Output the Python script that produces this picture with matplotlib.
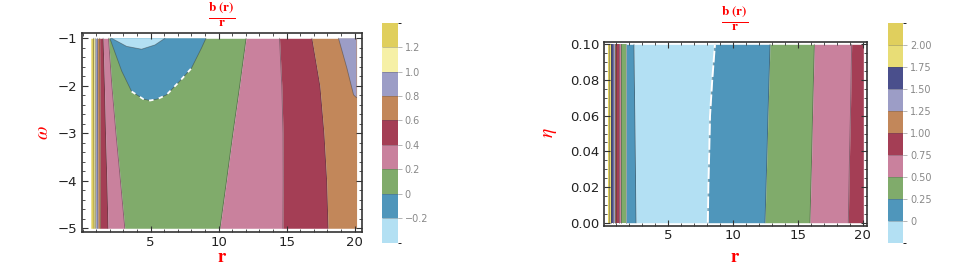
import matplotlib
matplotlib.use("Agg")
import matplotlib.pyplot as plt
from matplotlib.colors import ListedColormap, BoundaryNorm
from matplotlib.cm import ScalarMappable
from matplotlib.ticker import MultipleLocator, FixedLocator, FuncFormatter

plt.rcParams['mathtext.fontset'] = 'stix'
plt.rcParams['font.family'] = ['DejaVu Sans']

# mathematica-like contour palette
LBLUE = '#b3e0f3'
BLUE = '#4f96bb'
GREEN = '#80ab6b'
PINK = '#c9819d'
CRIMSON = '#a43e55'
TAN = '#c2875a'
LAVENDER = '#9c9dc6'
NAVY = '#4a4f8c'
LYELLOW = '#f6f0a6'
YELLOW = '#e8dd76'
MUSTARD = '#e0cf5d'

# ---------------- left panel: b(r)/r over (r, omega) ----------------
omega = [-1, -2, -3, -4, -5]
# contour boundaries (r), left to right
left_edges = [
    [0.60, 0.60, 0.60, 0.60, 0.60],
    [0.80, 0.81, 0.82, 0.83, 0.84],
    [0.92, 0.93, 0.93, 0.94, 0.95],
    [1.08, 1.09, 1.10, 1.11, 1.12],
    [1.25, 1.27, 1.28, 1.29, 1.30],
    [1.50, 1.60, 1.68, 1.78, 1.86],
    [1.90, 2.15, 2.45, 2.78, 3.10],
    [12.02, 11.55, 11.05, 10.58, 10.10],
    [14.48, 14.65, 14.74, 14.75, 14.73],
    [16.86, 17.45, 17.75, 17.95, 18.05],
    [20.15, 20.15, 20.15, 20.15, 20.15],
]
left_colors = [MUSTARD, LYELLOW, LAVENDER, TAN, CRIMSON, PINK, GREEN,
               PINK, CRIMSON, TAN]

# top-right corner (0.8 - 1.0)
corner_r = [18.82, 19.44, 19.93, 20.15, 20.15]
corner_w = [-1.0, -1.63, -2.19, -2.25, -1.0]

# negative bubble near the top (-0.2 - 0)
bubble_r = [2.0, 2.25, 2.87, 3.6, 4.46, 4.95, 5.5, 6.17, 7.15, 8.0, 8.75, 9.07]
bubble_w = [-1.0, -1.2, -1.69, -2.12, -2.28, -2.31, -2.28, -2.19, -1.9, -1.63, -1.2, -1.0]
# inner part (< -0.2)
inner_r = [2.13, 3.23, 4.33, 5.32, 6.05]
inner_w = [-1.0, -1.17, -1.23, -1.14, -1.0]

left_levels = [-0.4, -0.2, 0, 0.2, 0.4, 0.6, 0.8, 1.0, 1.2, 1.4]
left_cb_colors = [LBLUE, BLUE, GREEN, PINK, CRIMSON, TAN, LAVENDER, LYELLOW, MUSTARD]
left_cb_ticks = [-0.2, 0, 0.2, 0.4, 0.6, 0.8, 1.0, 1.2]
left_cb_labels = ['\u22120.2', '0', '0.2', '0.4', '0.6', '0.8', '1.0', '1.2']

# ---------------- right panel: b(r)/r over (r, eta) ----------------
eta = [0.0, 0.02, 0.04, 0.06, 0.08, 0.10]
right_edges = [
    [0.35] * 6,
    [0.45] * 6,
    [0.60] * 6,
    [0.73] * 6,
    [0.86] * 6,
    [0.99] * 6,
    [1.17] * 6,
    [1.37] * 6,
    [1.76] * 6,
    [2.51, 2.48, 2.45, 2.42, 2.38, 2.35],
    [8.05, 8.09, 8.16, 8.22, 8.39, 8.60],
    [12.46, 12.54, 12.62, 12.69, 12.77, 12.85],
    [15.93, 16.00, 16.07, 16.13, 16.20, 16.27],
    [18.89, 18.94, 18.99, 19.05, 19.10, 19.15],
    [20.05] * 6,
]
right_colors = [MUSTARD, YELLOW, NAVY, LAVENDER, TAN, CRIMSON, PINK, GREEN,
                BLUE, LBLUE, BLUE, GREEN, PINK, CRIMSON]

right_levels = [-0.25, 0, 0.25, 0.5, 0.75, 1.0, 1.25, 1.5, 1.75, 2.0, 2.25]
right_cb_colors = [LBLUE, BLUE, GREEN, PINK, CRIMSON, TAN, LAVENDER, NAVY, YELLOW, MUSTARD]
right_cb_ticks = [0, 0.25, 0.5, 0.75, 1.0, 1.25, 1.5, 1.75, 2.0]
right_cb_labels = ['0', '0.25', '0.50', '0.75', '1.00', '1.25', '1.50', '1.75', '2.00']

r_ticks = [5, 10, 15, 20]

EDGE = (0.2, 0.2, 0.2, 0.45)
W, H = 954, 273


def px(x0, y0, x1, y1):
    # pixel box -> figure fraction
    return [x0 / W, 1 - y1 / H, (x1 - x0) / W, (y1 - y0) / H]


def bands(ax, ys, edges, colors):
    for i, c in enumerate(colors):
        ax.fill_betweenx(ys, edges[i], edges[i + 1], color=c, lw=0)
    for e in edges[1:-1]:
        ax.plot(e, ys, color=EDGE, lw=0.6)


def frame(ax):
    ax.xaxis.set_major_locator(FixedLocator(r_ticks))
    ax.xaxis.set_minor_locator(MultipleLocator(1))
    ax.tick_params(which='both', direction='in', top=True, right=True,
                   labelsize=9.5, labelcolor='#222222', color='#333333')
    ax.tick_params(which='major', length=4, width=0.8)
    ax.tick_params(which='minor', length=2, width=0.6)
    ax.tick_params(axis='x', pad=2.5)
    for s in ax.spines.values():
        s.set_linewidth(1.2)
        s.set_color('#333333')


def cbar(fig, box, levels, colors, ticks, labels):
    cax = fig.add_axes(px(*box))
    cmap = ListedColormap(colors)
    norm = BoundaryNorm(levels, cmap.N)
    cb = fig.colorbar(ScalarMappable(norm=norm, cmap=cmap), cax=cax,
                      ticks=ticks, drawedges=True)
    cb.outline.set_visible(False)
    cb.dividers.set_color((0.3, 0.3, 0.3, 0.35))
    cb.dividers.set_linewidth(0.6)
    cb.set_ticklabels(labels)
    cax.tick_params(length=3, width=0.5, color='#999999', labelsize=7,
                    labelcolor='#888888', pad=2)


fig = plt.figure(figsize=(9.54, 2.73), dpi=100)

# left
ax1 = fig.add_axes(px(82, 33.3, 362, 232.3))
bands(ax1, omega, left_edges, left_colors)
ax1.fill(corner_r, corner_w, color=LAVENDER, lw=0)
ax1.plot(corner_r[:4], corner_w[:4], color=EDGE, lw=0.6)
ax1.fill(bubble_r, bubble_w, color=BLUE, lw=0)
ax1.plot(bubble_r, bubble_w, color=EDGE, lw=0.6)
ax1.plot(bubble_r[3:10], bubble_w[3:10], color='white', lw=1.3, dashes=(2.5, 3))
ax1.fill(inner_r, inner_w, color=LBLUE, lw=0)
ax1.plot(inner_r, inner_w, color=EDGE, lw=0.6)
ax1.set_xlim(-0.05, 20.55)
ax1.set_ylim(-5.085, -0.895)
ax1.yaxis.set_major_locator(MultipleLocator(1))
ax1.yaxis.set_minor_locator(MultipleLocator(0.2))
ax1.yaxis.set_major_formatter(FuncFormatter(lambda v, p: '\u2212%d' % abs(v) if v < 0 else '%d' % v))
frame(ax1)
cbar(fig, (382, 22.7, 397.7, 242.7), left_levels, left_cb_colors, left_cb_ticks, left_cb_labels)

# right
ax2 = fig.add_axes(px(604, 41.7, 866.7, 226))
bands(ax2, eta, right_edges, right_colors)
ax2.plot(right_edges[10], eta, color='white', lw=1.4, dashes=(6, 1.5))
ax2.set_xlim(0.04, 20.31)
ax2.set_ylim(-0.00185, 0.10146)
ax2.yaxis.set_major_locator(MultipleLocator(0.02))
ax2.yaxis.set_minor_locator(MultipleLocator(0.005))
ax2.yaxis.set_major_formatter(FuncFormatter(lambda v, p: '%.2f' % abs(v)))
frame(ax2)
cbar(fig, (888.3, 22.7, 903.3, 242.7), right_levels, right_cb_colors, right_cb_ticks, right_cb_labels)

# titles and axis labels
title = r'$\frac{\mathbf{b\ (r)}}{\mathbf{r}}$'
fig.text(222 / W, 1 - 15 / H, title, color='red', fontsize=13.5, ha='center', va='center')
fig.text(735 / W, 1 - 19 / H, title, color='red', fontsize=13.5, ha='center', va='center')
fig.text(222 / W, 1 - 262 / H, r'$\mathbf{r}$', color='red', fontsize=13.5, ha='center', va='baseline')
fig.text(735 / W, 1 - 262 / H, r'$\mathbf{r}$', color='red', fontsize=13.5, ha='center', va='baseline')
fig.text(43 / W, 1 - 133 / H, r'$\omega$', color='red', fontsize=14, ha='center', va='center', rotation=90)
fig.text(550 / W, 1 - 133 / H, r'$\eta$', color='red', fontsize=14, ha='center', va='center', rotation=90)

fig.savefig('out.png', dpi=100)
